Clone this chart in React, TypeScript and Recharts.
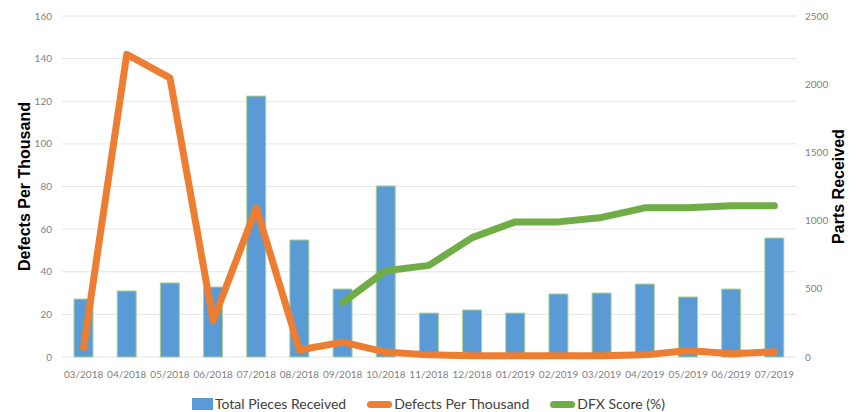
import React from 'react';
import { ComposedChart, Bar, Line, XAxis, YAxis, CartesianGrid, Legend, Label } from 'recharts';

const months = [
  '03/2018', '04/2018', '05/2018', '06/2018', '07/2018', '08/2018', '09/2018', '10/2018', '11/2018',
  '12/2018', '01/2019', '02/2019', '03/2019', '04/2019', '05/2019', '06/2019', '07/2019',
];
const piecesReceived = [425, 484, 543, 513, 1913, 858, 498, 1254, 322, 345, 322, 462, 469, 535, 440, 498, 872];
const defectsPerThousand = [4.5, 142, 131, 17, 70, 3.3, 7, 2.3, 1, 0.6, 0.6, 0.6, 0.6, 1, 3, 1.5, 2.5];
const dfxScore: (number | null)[] = [null, null, null, null, null, null, 25.5, 40.5, 43, 56, 63.4, 63.4, 65.5, 70, 70, 71, 71];

const leftTicks = [0, 20, 40, 60, 80, 100, 120, 140, 160];
const rightTicks = [0, 500, 1000, 1500, 2000, 2500];

const data = months.map((m, i) => ({
  month: m,
  pieces: piecesReceived[i],
  defects: defectsPerThousand[i],
  dfx: dfxScore[i],
}));

const tickStyle = { fill: '#7f7f7f', fontSize: 10, fontFamily: 'Lato, "Open Sans", sans-serif' };
const axisTitle = { fontFamily: '"Liberation Sans", Arial, sans-serif', fontWeight: 700, fontSize: 16, fill: '#000' };

const legendItems = [
  { name: 'Total Pieces Received', color: '#5b9bd5', kind: 'box' },
  { name: 'Defects Per Thousand', color: '#ed7d31', kind: 'line' },
  { name: 'DFX Score (%)', color: '#70ad47', kind: 'line' },
];

const ChartLegend = () => (
  <div style={{ display: 'flex', justifyContent: 'center', alignItems: 'center', paddingTop: 8, fontFamily: 'Lato, "Open Sans", sans-serif', fontSize: 14, color: '#404040', lineHeight: '18px' }}>
    {legendItems.map((it, i) => (
      <div key={it.name} style={{ display: 'flex', alignItems: 'center', marginLeft: i === 0 ? 0 : 21 }}>
        {it.kind === 'box' ? (
          <span style={{ display: 'inline-block', width: 21, height: 12, background: it.color, marginRight: 2 }} />
        ) : (
          <span style={{ display: 'inline-block', width: 25, height: 7, borderRadius: 4, background: it.color, marginRight: 2 }} />
        )}
        <span>{it.name}</span>
      </div>
    ))}
  </div>
);

const App: React.FC = () => {
  return (
    <div style={{ position: 'absolute', left: 0, top: 0, width: 857, height: 412, background: '#fff' }}>
      <ComposedChart width={857} height={412} data={data} margin={{ top: 16, right: 0, bottom: 0, left: 0 }} barSize={19}>
        <CartesianGrid yAxisId="left" vertical={false} stroke="#e4e4e4" />
        <XAxis dataKey="month" tick={tickStyle} tickLine={false} axisLine={false} tickMargin={8} height={30} interval={0} />
        <YAxis
          yAxisId="left"
          orientation="left"
          domain={[0, 160]}
          ticks={leftTicks}
          width={62}
          tick={tickStyle}
          tickLine={false}
          axisLine={false}
          tickMargin={4}
        >
          <Label
            content={({ viewBox }: any) => (
              <text
                x={viewBox.x + 30}
                y={viewBox.y + viewBox.height / 2}
                transform={`rotate(-90, ${viewBox.x + 30}, ${viewBox.y + viewBox.height / 2})`}
                textAnchor="middle"
                style={axisTitle}
              >
                Defects Per Thousand
              </text>
            )}
          />
        </YAxis>
        <YAxis
          yAxisId="right"
          orientation="right"
          domain={[0, 2500]}
          ticks={rightTicks}
          width={61}
          tick={tickStyle}
          tickLine={false}
          axisLine={false}
          tickMargin={3}
        >
          <Label
            content={({ viewBox }: any) => (
              <text
                x={viewBox.x + 48}
                y={viewBox.y + viewBox.height / 2}
                transform={`rotate(-90, ${viewBox.x + 48}, ${viewBox.y + viewBox.height / 2})`}
                textAnchor="middle"
                style={axisTitle}
              >
                Parts Received
              </text>
            )}
          />
        </YAxis>
        <Legend verticalAlign="bottom" height={25} content={() => <ChartLegend />} />
        <Bar yAxisId="right" dataKey="pieces" name="Total Pieces Received" fill="#5b9bd5" stroke="#a9d18e" strokeWidth={1} isAnimationActive={false} />
        <Line yAxisId="left" type="linear" dataKey="defects" name="Defects Per Thousand" stroke="#ed7d31" strokeWidth={7} dot={false} activeDot={false} strokeLinejoin="round" strokeLinecap="round" isAnimationActive={false} />
        <Line yAxisId="left" type="linear" dataKey="dfx" name="DFX Score (%)" stroke="#70ad47" strokeWidth={7} dot={false} activeDot={false} strokeLinejoin="round" strokeLinecap="round" connectNulls={false} isAnimationActive={false} />
      </ComposedChart>
    </div>
  );
};

export default App;
